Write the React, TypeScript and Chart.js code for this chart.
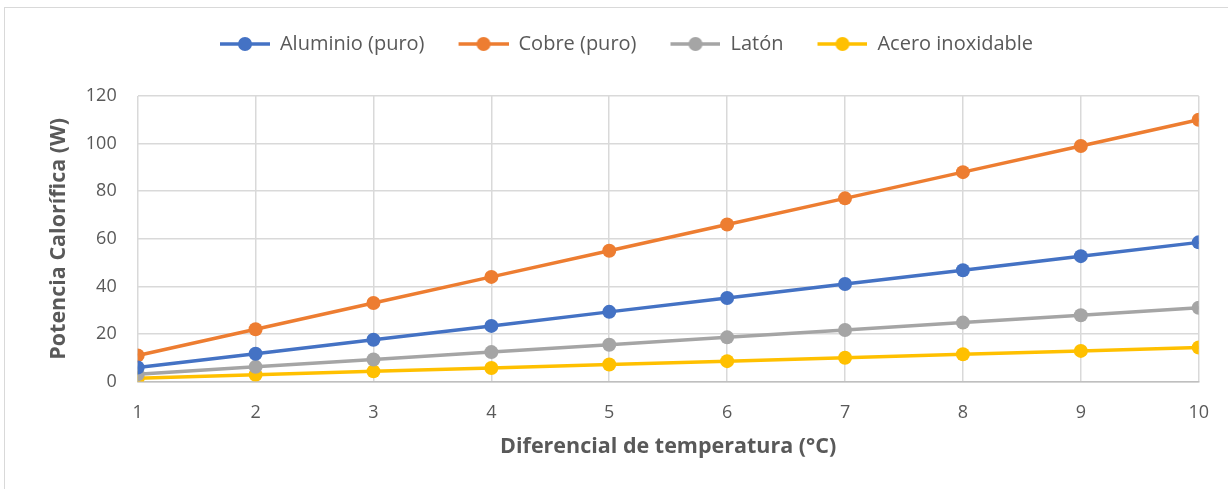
import React, { useEffect, useRef } from "react";
import { Chart, registerables } from "chart.js";

Chart.register(...registerables);

const xValues = [1, 2, 3, 4, 5, 6, 7, 8, 9, 10];
const aluminio = [5.9, 11.7, 17.6, 23.4, 29.3, 35.1, 41.0, 46.8, 52.7, 58.5];
const cobre = [11, 22, 33, 44, 55, 66, 77, 88, 99, 110];
const laton = [3.1, 6.2, 9.3, 12.4, 15.5, 18.6, 21.7, 24.8, 27.9, 31.0];
const acero = [1.4, 2.9, 4.3, 5.7, 7.2, 8.6, 10.0, 11.5, 12.9, 14.3];
const seriesNames = ["Aluminio (puro)", "Cobre (puro)", "Latón", "Acero inoxidable"];
const seriesColors = ["#4472C4", "#ED7D31", "#A5A5A5", "#FFC000"];
const xTitle = "Diferencial de temperatura (°C)";
const yTitle = "Potencia Calorífica (W)";

const FONT = "'Open Sans', sans-serif";
const TEXT = "#595959";

function legendIcon(color: string) {
  const c = document.createElement("canvas");
  c.width = 74;
  c.height = 16;
  const ctx = c.getContext("2d")!;
  ctx.strokeStyle = color;
  ctx.lineWidth = 3.5;
  ctx.beginPath();
  ctx.moveTo(24, 8);
  ctx.lineTo(74, 8);
  ctx.stroke();
  ctx.fillStyle = color;
  ctx.beginPath();
  ctx.arc(49, 8, 7, 0, Math.PI * 2);
  ctx.fill();
  return c;
}

const legendSpace = {
  id: "legendSpace",
  beforeInit(chart: any) {
    const legend = chart.legend;
    if (!legend) return;
    const fit = legend.fit;
    legend.fit = function () {
      fit.call(this);
      this.height += 32;
      if (this.lineWidths && this.lineWidths.length) this.lineWidths[0] += 20;
    };
  },
};

export default function App() {
  const ref = useRef<HTMLCanvasElement>(null);
  useEffect(() => {
    const all = [aluminio, cobre, laton, acero];
    const icons = seriesColors.map(legendIcon);
    const chart = new Chart(ref.current!, {
      type: "line",
      data: {
        datasets: all.map((vals, i) => ({
          label: seriesNames[i],
          data: vals.map((v, j) => ({ x: xValues[j], y: v })),
          borderColor: seriesColors[i],
          backgroundColor: seriesColors[i],
          borderWidth: 3.5,
          pointRadius: 7,
          pointHoverRadius: 7,
          pointBorderWidth: 0,
          pointStyle: "circle",
          tension: 0,
        })),
      },
      plugins: [legendSpace],
      options: {
        animation: false,
        responsive: false,
        layout: { padding: { top: 16, left: 41, right: 26, bottom: 32 } },
        plugins: {
          legend: {
            position: "top",
            labels: {
              usePointStyle: true,
              pointStyleWidth: 74,
              padding: 10,
              color: TEXT,
              font: { family: FONT, size: 20 },
              generateLabels: (ch: any) =>
                ch.data.datasets.map((d: any, i: number) => ({
                  text: d.label,
                  fillStyle: seriesColors[i],
                  strokeStyle: seriesColors[i],
                  lineWidth: 0,
                  pointStyle: icons[i],
                  datasetIndex: i,
                  hidden: false,
                  fontColor: TEXT,
                })),
            },
          },
          tooltip: { enabled: false },
        },
        scales: {
          x: {
            type: "linear",
            min: 1,
            max: 10,
            ticks: {
              stepSize: 1,
              padding: 20,
              color: TEXT,
              font: { family: FONT, size: 18 },
            },
            grid: { color: "#d9d9d9", lineWidth: 1.5, drawTicks: false },
            border: { color: "#bfbfbf", width: 1.5 },
            title: {
              display: true,
              text: xTitle,
              color: TEXT,
              font: { family: FONT, size: 21.5, weight: "bold" },
              padding: { top: -9, bottom: 0 },
            },
          },
          y: {
            min: 0,
            max: 120,
            ticks: {
              stepSize: 20,
              padding: 21,
              color: TEXT,
              font: { family: FONT, size: 18 },
            },
            grid: { color: "#d9d9d9", lineWidth: 1.5, drawTicks: false },
            border: { display: false },
            title: {
              display: true,
              text: yTitle,
              color: TEXT,
              font: { family: FONT, size: 21.5, weight: "bold" },
              padding: { top: 0, bottom: -7 },
            },
          },
        },
      },
    } as any);
    return () => chart.destroy();
  }, []);
  return (
    <div
      style={{
        position: "fixed",
        left: 4,
        top: 7,
        width: 1230,
        height: 490,
        border: "1.5px solid #d9d9d9",
        background: "#fff",
        boxSizing: "border-box",
      }}
    >
      <canvas ref={ref} width={1224} height={484} style={{ display: "block" }} />
    </div>
  );
}
